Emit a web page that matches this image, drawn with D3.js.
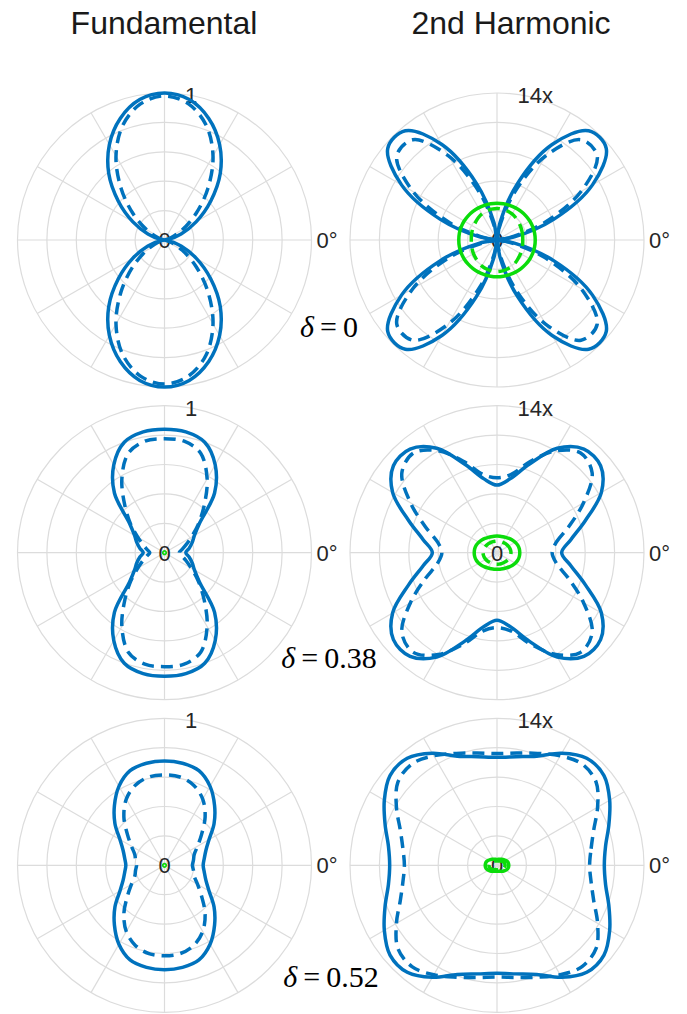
<!DOCTYPE html>
<html>
<head>
<meta charset="utf-8">
<script src="https://cdn.jsdelivr.net/npm/d3@7"></script>
<style>
  html, body { margin: 0; padding: 0; background: #fff; }
  svg { display: block; }
</style>
</head>
<body>
<svg id="chart" width="687" height="1014"></svg>
<script>
// ---------------- DATA ----------------
const columnTitles = ["Fundamental", "2nd Harmonic"];
const rowLabels = ["0", "0.38", "0.52"];           // delta values
const radialTickLabels = ["1", "14x"];             // outer-ring label per column
const centerLabel = "0";
const angleLabel = "0°";
const gridRadii = [0.2, 0.4, 0.6, 0.8, 1.0];
const gridAngles = [0, 30, 60, 90, 120, 150, 180, 210, 240, 270, 300, 330];

const ANGLES = [0,10,20,30,40,50,60,70,80,90,100,110,120,130,140,150,160,170,
                180,190,200,210,220,230,240,250,260,270,280,290,300,310,320,330,340,350];
const ANGLES_DOT = [0, 90, 180, 270];

// Row 1 : delta = 0
const fundD0Solid  = [0,0.03,0.12,0.25,0.41,0.59,0.75,0.88,0.97,1.00,0.97,0.88,0.75,0.59,0.41,0.25,0.12,0.03,
                      0,0.03,0.12,0.25,0.41,0.59,0.75,0.88,0.97,1.00,0.97,0.88,0.75,0.59,0.41,0.25,0.12,0.03];
const fundD0Dashed = [0,0.01,0.05,0.14,0.28,0.46,0.66,0.83,0.94,0.98,0.94,0.83,0.66,0.46,0.28,0.14,0.05,0.01,
                      0,0.01,0.05,0.14,0.28,0.46,0.66,0.83,0.94,0.98,0.94,0.83,0.66,0.46,0.28,0.14,0.05,0.01];
const harmD0Solid  = [0,0.12,0.41,0.75,0.97,0.97,0.75,0.41,0.12,0,0.12,0.41,0.75,0.97,0.97,0.75,0.41,0.12,
                      0,0.12,0.41,0.75,0.97,0.97,0.75,0.41,0.12,0,0.12,0.41,0.75,0.97,0.97,0.75,0.41,0.12];
const harmD0Dashed = [0,0.08,0.34,0.66,0.89,0.89,0.66,0.34,0.08,0,0.08,0.34,0.66,0.89,0.89,0.66,0.34,0.08,
                      0,0.08,0.34,0.66,0.89,0.89,0.66,0.34,0.08,0,0.08,0.34,0.66,0.89,0.89,0.66,0.34,0.08];
const harmD0GreenSolid  = [0.26,0.26,0.259,0.258,0.256,0.254,0.252,0.25,0.25,0.25,0.25,0.25,0.252,0.254,0.256,0.258,0.259,0.26,
                           0.26,0.26,0.259,0.258,0.256,0.254,0.252,0.25,0.25,0.25,0.25,0.25,0.252,0.254,0.256,0.258,0.259,0.26];
const harmD0GreenDashed = [0.175,0.177,0.18,0.185,0.19,0.198,0.205,0.21,0.213,0.215,0.213,0.21,0.205,0.198,0.19,0.185,0.18,0.177,
                           0.175,0.177,0.18,0.185,0.19,0.198,0.205,0.21,0.213,0.215,0.213,0.21,0.205,0.198,0.19,0.185,0.18,0.177];

// Row 2 : delta = 0.38
const fundD38Solid  = [0.145,0.17,0.20,0.235,0.31,0.53,0.69,0.80,0.835,0.84,0.835,0.80,0.69,0.53,0.31,0.235,0.20,0.17,
                       0.145,0.17,0.20,0.235,0.31,0.53,0.69,0.80,0.835,0.84,0.835,0.80,0.69,0.53,0.31,0.235,0.20,0.17];
const fundD38Dashed = [0.10,0.12,0.155,0.21,0.30,0.42,0.58,0.72,0.77,0.775,0.77,0.72,0.58,0.42,0.30,0.21,0.155,0.12,
                       0.10,0.12,0.155,0.21,0.30,0.42,0.58,0.72,0.77,0.775,0.77,0.72,0.58,0.42,0.30,0.21,0.155,0.12];
const fundD38Green  = [0.006,0.006,0.006,0.006];
const harmD38Solid  = [0.44,0.51,0.64,0.82,0.92,0.92,0.82,0.64,0.51,0.46,0.51,0.64,0.82,0.92,0.92,0.82,0.64,0.51,
                       0.44,0.51,0.64,0.82,0.92,0.92,0.82,0.64,0.51,0.46,0.51,0.64,0.82,0.92,0.92,0.82,0.64,0.51];
const harmD38Dashed = [0.375,0.41,0.52,0.68,0.845,0.885,0.80,0.66,0.54,0.51,0.54,0.66,0.80,0.885,0.845,0.68,0.52,0.41,
                       0.375,0.41,0.52,0.68,0.845,0.885,0.80,0.66,0.54,0.51,0.54,0.66,0.80,0.885,0.845,0.68,0.52,0.41];
const harmD38GreenSolid  = [0.155,0.154,0.15,0.143,0.135,0.127,0.12,0.116,0.114,0.113,0.114,0.116,0.12,0.127,0.135,0.143,0.15,0.154,
                            0.155,0.154,0.15,0.143,0.135,0.127,0.12,0.116,0.114,0.113,0.114,0.116,0.12,0.127,0.135,0.143,0.15,0.154];
const harmD38GreenDashed = [0.095,0.094,0.092,0.089,0.086,0.083,0.081,0.08,0.079,0.079,0.079,0.08,0.081,0.083,0.086,0.089,0.092,0.094,
                            0.095,0.094,0.092,0.089,0.086,0.083,0.081,0.08,0.079,0.079,0.079,0.08,0.081,0.083,0.086,0.089,0.092,0.094];

// Row 3 : delta = 0.52
const fundD52Solid  = [0.263,0.275,0.30,0.35,0.44,0.53,0.62,0.685,0.705,0.71,0.705,0.685,0.62,0.53,0.44,0.35,0.30,0.275,
                       0.263,0.275,0.30,0.35,0.44,0.53,0.62,0.685,0.705,0.71,0.705,0.685,0.62,0.53,0.44,0.35,0.30,0.275];
const fundD52Dashed = [0.19,0.20,0.215,0.26,0.33,0.43,0.52,0.58,0.61,0.615,0.61,0.58,0.52,0.43,0.33,0.26,0.215,0.20,
                       0.19,0.20,0.215,0.26,0.33,0.43,0.52,0.58,0.61,0.615,0.61,0.58,0.52,0.43,0.33,0.26,0.215,0.20];
const fundD52Green  = [0.006,0.006,0.006,0.006];
const harmD52Solid  = [0.73,0.75,0.81,0.885,0.95,0.95,0.88,0.79,0.75,0.735,0.75,0.79,0.88,0.95,0.95,0.885,0.81,0.75,
                       0.73,0.75,0.81,0.885,0.95,0.95,0.88,0.79,0.75,0.735,0.75,0.79,0.88,0.95,0.95,0.885,0.81,0.75];
const harmD52Dashed = [0.63,0.65,0.70,0.79,0.88,0.90,0.86,0.81,0.775,0.76,0.775,0.81,0.86,0.90,0.88,0.79,0.70,0.65,
                       0.63,0.65,0.70,0.79,0.88,0.90,0.86,0.81,0.775,0.76,0.775,0.81,0.86,0.90,0.88,0.79,0.70,0.65];
const harmD52GreenSolid  = [0.08,0.079,0.075,0.068,0.06,0.053,0.047,0.043,0.041,0.04,0.041,0.043,0.047,0.053,0.06,0.068,0.075,0.079,
                            0.08,0.079,0.075,0.068,0.06,0.053,0.047,0.043,0.041,0.04,0.041,0.043,0.047,0.053,0.06,0.068,0.075,0.079];
const harmD52GreenDashed = [0.055,0.054,0.052,0.048,0.043,0.038,0.034,0.031,0.03,0.03,0.03,0.031,0.034,0.038,0.043,0.048,0.052,0.054,
                            0.055,0.054,0.052,0.048,0.043,0.038,0.034,0.031,0.03,0.03,0.03,0.031,0.034,0.038,0.043,0.048,0.052,0.054];

// ---------------- LAYOUT / STYLE ----------------
const BLUE = "#0072bd", GREEN = "#0bdc0b", GRID = "#dcdcdc", TXT = "#262626";
const R = 147;
const colX = [164.5, 497];
const rowY = [240, 552.7, 865.3];
const deltaPos = [[329, 337], [329, 668], [331, 987]];

const panels = [
  {row:0, col:0, series:[[ANGLES,fundD0Solid,BLUE,false],[ANGLES,fundD0Dashed,BLUE,true]]},
  {row:0, col:1, series:[[ANGLES,harmD0Solid,BLUE,false],[ANGLES,harmD0Dashed,BLUE,true],
                         [ANGLES,harmD0GreenSolid,GREEN,false],[ANGLES,harmD0GreenDashed,GREEN,true]]},
  {row:1, col:0, series:[[ANGLES,fundD38Solid,BLUE,false],[ANGLES,fundD38Dashed,BLUE,true],[ANGLES_DOT,fundD38Green,GREEN,false]]},
  {row:1, col:1, series:[[ANGLES,harmD38Solid,BLUE,false],[ANGLES,harmD38Dashed,BLUE,true],
                         [ANGLES,harmD38GreenSolid,GREEN,false],[ANGLES,harmD38GreenDashed,GREEN,true]]},
  {row:2, col:0, series:[[ANGLES,fundD52Solid,BLUE,false],[ANGLES,fundD52Dashed,BLUE,true],[ANGLES_DOT,fundD52Green,GREEN,false]]},
  {row:2, col:1, series:[[ANGLES,harmD52Solid,BLUE,false],[ANGLES,harmD52Dashed,BLUE,true],
                         [ANGLES,harmD52GreenSolid,GREEN,false],[ANGLES,harmD52GreenDashed,GREEN,true]]}
];

const svg = d3.select("#chart");
svg.append("rect").attr("width", 687).attr("height", 1014).attr("fill", "#fff");

const rScale = d3.scaleLinear().domain([0, 1]).range([0, R]);
// math angle (deg, CCW from east) -> d3 radial angle (rad, CW from north)
const aScale = d3.scaleLinear().domain([0, 360]).range([Math.PI / 2, Math.PI / 2 - 2 * Math.PI]);
const px = (deg, r) => rScale(r) * Math.sin(aScale(deg));
const py = (deg, r) => -rScale(r) * Math.cos(aScale(deg));

// titles
svg.selectAll("text.title").data(columnTitles).join("text")
  .attr("class", "title")
  .attr("x", (d, i) => i === 0 ? 164 : 511)
  .attr("y", 34)
  .attr("text-anchor", "middle")
  .attr("font-family", "Liberation Sans, Arial, sans-serif")
  .attr("font-size", 32)
  .attr("fill", "#1a1a1a")
  .text(d => d);

panels.forEach(p => {
  const g = svg.append("g").attr("transform", `translate(${colX[p.col]},${rowY[p.row]})`);
  g.selectAll("circle.grid").data(gridRadii).join("circle")
    .attr("r", d => rScale(d)).attr("fill", "none")
    .attr("stroke", GRID).attr("stroke-width", 1.2);
  g.selectAll("line.spoke").data(gridAngles).join("line")
    .attr("x1", 0).attr("y1", 0)
    .attr("x2", d => px(d, 1)).attr("y2", d => py(d, 1))
    .attr("stroke", GRID).attr("stroke-width", 1.2);
  const lab = { "font-family": "Liberation Sans, Arial, sans-serif", "font-size": 22, "fill": TXT };
  const t0 = g.append("text").attr("x", 0).attr("y", 0).attr("dy", "0.36em")
    .attr("text-anchor", "middle").text(centerLabel);
  const t1 = g.append("text").attr("x", px(80, 1) - 5).attr("y", py(80, 1)).attr("dy", "0.36em")
    .attr("text-anchor", "start").text(radialTickLabels[p.col]);
  const t2 = g.append("text").attr("x", px(0, 1) + 5).attr("y", py(0, 1)).attr("dy", "0.36em")
    .attr("text-anchor", "start").text(angleLabel);
  [t0, t1, t2].forEach(t => Object.entries(lab).forEach(([k, v]) => t.attr(k, v)));

  p.series.forEach(([angles, values, color, dashed]) => {
    const pts = angles.map((a, i) => [a, values[i]]);
    const line = d3.lineRadial()
      .angle(d => aScale(d[0]))
      .radius(d => rScale(d[1]))
      .curve(d3.curveCatmullRomClosed.alpha(0.5));
    g.append("path").datum(pts)
      .attr("d", line)
      .attr("fill", "none")
      .attr("stroke", color)
      .attr("stroke-width", 3.5)
      .attr("stroke-linejoin", "round")
      .attr("stroke-dasharray", dashed ? "12,7" : null);
  });
});

// delta labels
rowLabels.forEach((v, i) => {
  const t = svg.append("text")
    .attr("x", deltaPos[i][0]).attr("y", deltaPos[i][1])
    .attr("text-anchor", "middle")
    .attr("font-family", "Liberation Serif, Times New Roman, serif")
    .attr("font-size", 30).attr("fill", "#000");
  t.append("tspan").attr("font-style", "italic").text("δ");
  t.append("tspan").attr("dx", 6).text("=");
  t.append("tspan").attr("dx", 6).text(v);
});
</script>
</body>
</html>
